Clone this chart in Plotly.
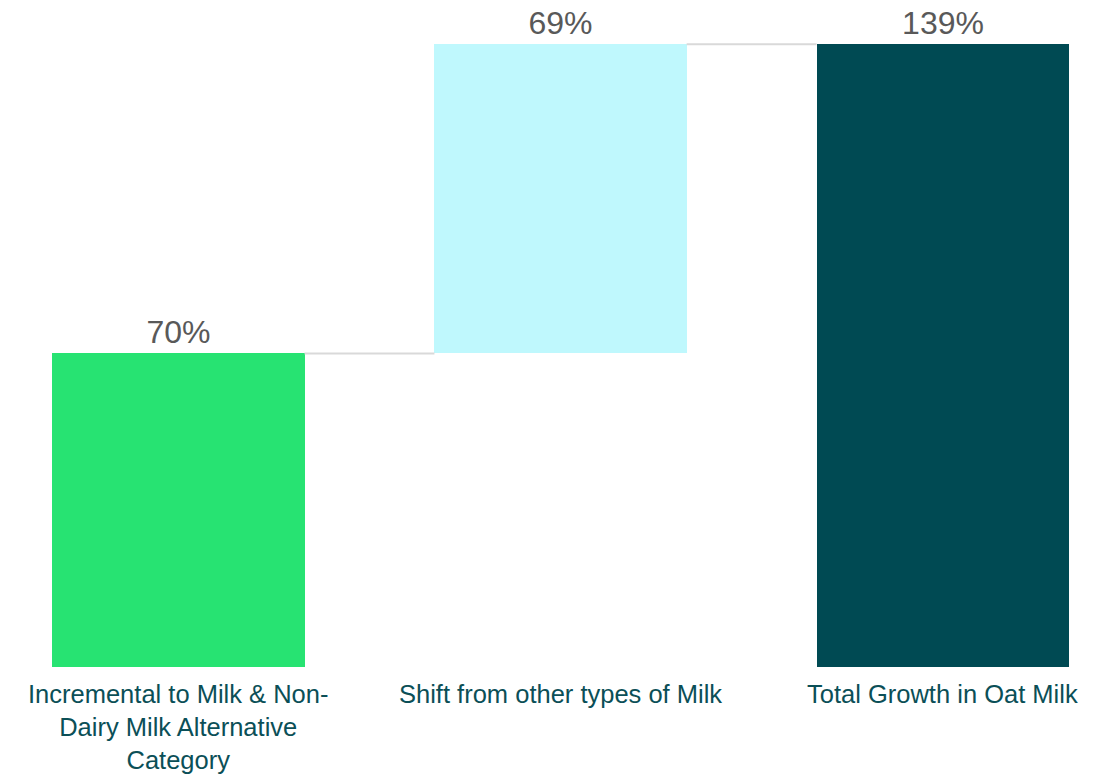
import plotly.graph_objects as go

categories = ["Incremental to Milk & Non-<br>Dairy Milk Alternative<br>Category",
              "Shift from other types of Milk",
              "Total Growth in Oat Milk"]
values = [70, 69, 139]
measures = ["relative", "relative", "total"]
value_labels = ["70%", "69%", "139%"]
colors = ["#27E372", "#BFF8FD", "#004A53"]

# compute bases from waterfall logic
bases, tops = [], []
running = 0
for v, m in zip(values, measures):
    if m == "total":
        bases.append(0)
        tops.append(v)
        running = v
    else:
        bases.append(running)
        running += v
        tops.append(running)
heights = [t - b for t, b in zip(tops, bases)]
xs = list(range(len(categories)))
bar_width = 0.66

fig = go.Figure()
# connectors
for i in range(len(xs) - 1):
    fig.add_trace(go.Scatter(
        x=[xs[i] + bar_width / 2, xs[i + 1] - bar_width / 2],
        y=[tops[i], tops[i]],
        mode="lines", line=dict(color="#D9D9D9", width=2),
        hoverinfo="skip", showlegend=False))

fig.add_trace(go.Bar(
    x=xs, y=heights, base=bases, width=bar_width,
    marker=dict(color=colors, line=dict(width=0)),
    text=value_labels, textposition="outside",
    textfont=dict(size=32, color="#595959", family="Arial, Liberation Sans, sans-serif"),
    cliponaxis=False, showlegend=False))

for x, c in zip(xs, categories):
    fig.add_annotation(x=x, y=0, xref="x", yref="paper", text=c,
                       showarrow=False, yanchor="top", yshift=-12,
                       font=dict(size=25.5, color="#0B4F57",
                                 family="Arial, Liberation Sans, sans-serif"),
                       align="center", borderpad=0)

fig.update_layout(
    width=1097, height=777,
    margin=dict(l=0, r=0, t=0, b=110),
    paper_bgcolor="white", plot_bgcolor="white",
    xaxis=dict(range=[-0.467, 2.404], visible=False),
    yaxis=dict(range=[0, 148.9], visible=False),
    bargap=0,
)
fig.write_html("out.html")
